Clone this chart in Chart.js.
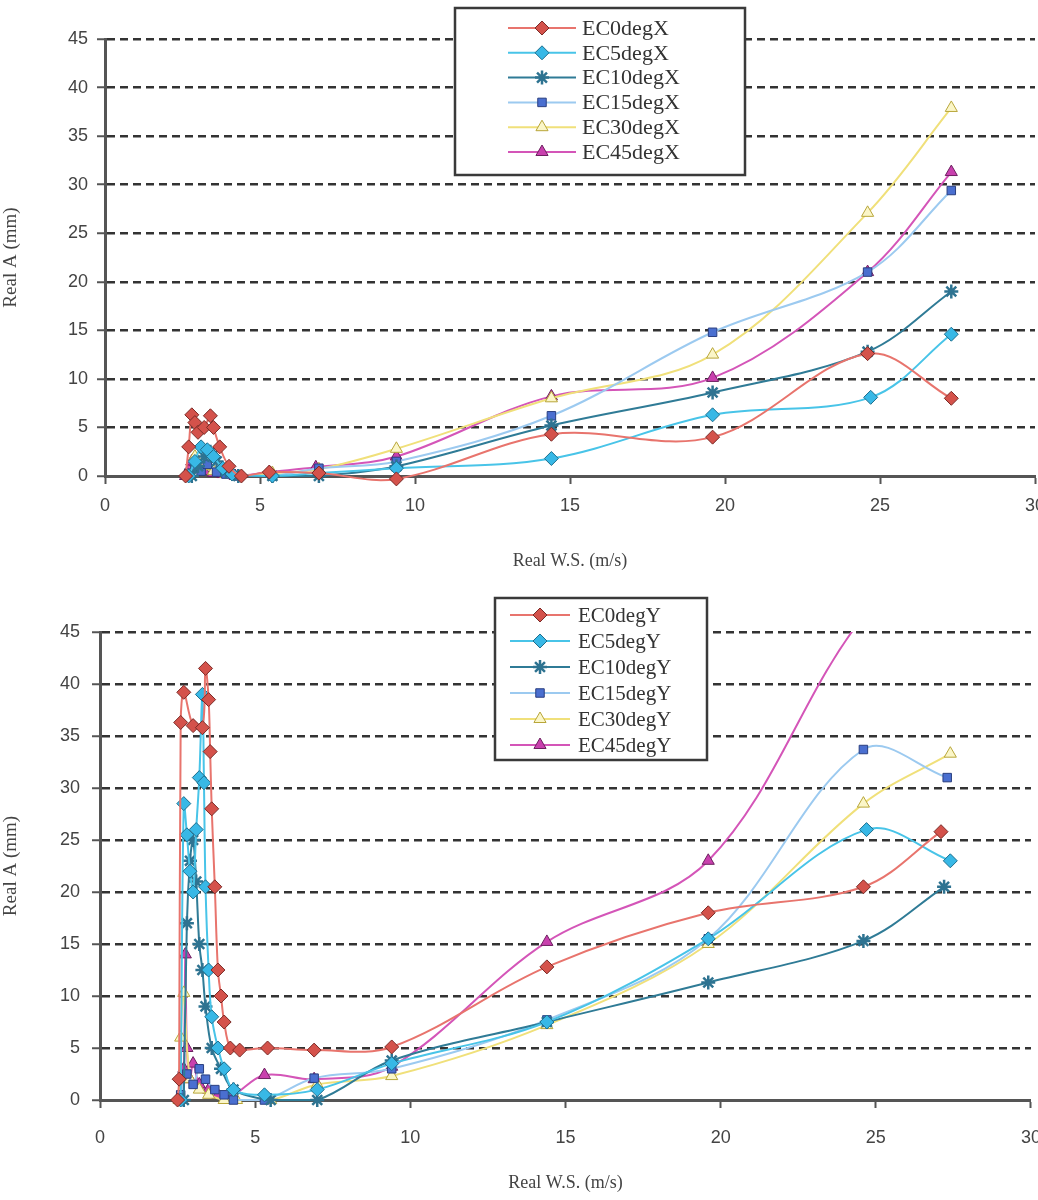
<!DOCTYPE html>
<html>
<head>
<meta charset="utf-8">
<script src="https://cdn.jsdelivr.net/npm/chart.js@4.4.1/dist/chart.umd.min.js"></script>
<style>
  html, body { margin: 0; padding: 0; background: #fff; overflow: hidden; }
  #wrap { width: 1038px; height: 1200px; overflow: hidden; }
  canvas { display: block; }
</style>
</head>
<body>
<div id="wrap">
  <canvas id="chartX" width="1060" height="590"></canvas>
  <canvas id="chartY" width="1060" height="610"></canvas>
</div>
<script>
"use strict";

// ---- data (wind speed m/s, amplitude mm) ----
// X direction
var ec0X_ws  = [2.6, 2.7, 2.8, 2.9, 3.0, 3.2, 3.4, 3.5, 3.7, 4.0, 4.4, 5.3, 6.9, 9.4, 14.4, 19.6, 24.6, 27.3];
var ec0X_amp = [0, 3.0, 6.3, 5.5, 4.5, 5.0, 6.2, 5.0, 3.0, 1.0, 0, 0.4, 0.3, -0.3, 4.3, 4.0, 12.6, 8.0];
var ec5X_ws  = [2.7, 2.9, 3.1, 3.3, 3.5, 3.8, 4.1, 5.4, 6.9, 9.4, 14.4, 19.6, 24.7, 27.3];
var ec5X_amp = [0, 1.5, 3.0, 2.7, 2.0, 0.8, 0.2, 0, 0.3, 0.8, 1.8, 6.3, 8.1, 14.6];
var ec10X_ws  = [2.8, 3.0, 3.2, 3.4, 3.6, 3.9, 4.3, 5.4, 6.9, 9.4, 14.4, 19.6, 24.6, 27.3];
var ec10X_amp = [0, 1.0, 2.0, 2.5, 1.5, 0.5, 0, 0, 0, 1.0, 5.2, 8.6, 12.8, 19.0];
var ec15X_ws  = [2.7, 2.9, 3.1, 3.3, 3.6, 3.9, 4.3, 5.4, 6.9, 9.4, 14.4, 19.6, 24.6, 27.3];
var ec15X_amp = [0.3, 1.0, 0.5, 1.2, 0.4, 0.2, 0, 0, 0.8, 1.5, 6.2, 14.8, 21.0, 29.4];
var ec30X_ws  = [2.7, 2.9, 3.2, 3.5, 3.9, 4.3, 5.4, 6.9, 9.4, 14.4, 19.6, 24.6, 27.3];
var ec30X_amp = [0, 2.0, 1.0, 0.5, 0.2, 0, 0.3, 0.7, 2.8, 8.0, 12.5, 27.1, 37.9];
var ec45X_ws  = [2.6, 2.7, 2.8, 3.0, 3.2, 3.5, 3.8, 4.2, 5.3, 6.8, 9.4, 14.4, 19.6, 24.6, 27.3];
var ec45X_amp = [0, 0.6, 1.5, 0.8, 0.5, 0.3, 0.2, 0, 0.4, 0.9, 2.0, 8.2, 10.1, 21.0, 31.3];

// Y direction
var ec0Y_ws  = [2.5, 2.55, 2.6, 2.7, 3.0, 3.3, 3.4, 3.5, 3.55, 3.6, 3.7, 3.8, 3.9, 4.0, 4.2, 4.5, 5.4, 6.9, 9.4, 14.4, 19.6, 24.6, 27.1];
var ec0Y_amp = [0, 2, 36.3, 39.2, 36, 35.8, 41.5, 38.5, 33.5, 28, 20.5, 12.5, 10, 7.5, 5, 4.8, 5.0, 4.8, 5.1, 12.8, 18.0, 20.5, 25.8];
var ec5Y_ws  = [2.6, 2.7, 2.8, 2.9, 3.0, 3.1, 3.2, 3.3, 3.35, 3.4, 3.5, 3.6, 3.8, 4.0, 4.3, 5.3, 7.0, 9.4, 14.4, 19.6, 24.7, 27.4];
var ec5Y_amp = [0, 28.5, 25.5, 22, 20, 26, 31, 39, 30.5, 20.5, 12.5, 8, 5, 3, 1, 0.5, 1, 3.5, 7.5, 15.5, 26.0, 23.0];
var ec10Y_ws  = [2.7, 2.8, 2.9, 3.0, 3.1, 3.2, 3.3, 3.4, 3.6, 3.9, 4.3, 5.5, 7.0, 9.4, 14.4, 19.6, 24.6, 27.2];
var ec10Y_amp = [0, 17, 23, 25, 21, 15, 12.5, 9, 5, 3, 1, 0, 0, 3.8, 7.5, 11.3, 15.3, 20.5];
var ec15Y_ws  = [2.6, 2.8, 3.0, 3.2, 3.4, 3.7, 4.0, 4.3, 5.3, 6.9, 9.4, 14.4, 19.6, 24.6, 27.3];
var ec15Y_amp = [0.5, 2.5, 1.5, 3.0, 2.0, 1.0, 0.5, 0, 0, 2.1, 3.0, 7.7, 15.5, 33.7, 31.0];
var ec30Y_ws  = [2.55, 2.6, 2.7, 2.9, 3.2, 3.5, 4.0, 4.4, 5.5, 7.0, 9.4, 14.4, 19.6, 24.6, 27.4];
var ec30Y_amp = [0, 6, 10.3, 2, 1, 0.5, 0, 0, 0, 1.5, 2.3, 7.2, 15.0, 28.5, 33.3];
var ec45Y_ws  = [2.6, 2.7, 2.75, 2.8, 2.9, 3.0, 3.2, 3.5, 3.8, 4.2, 5.3, 6.9, 9.4, 14.4, 19.6, 24.6, 27.3];
var ec45Y_amp = [0, 3, 14, 5, 2, 3.5, 1.5, 1, 0.5, 0.3, 2.4, 2.0, 3.2, 15.2, 23.0, 46.5, 52];

var seriesNames = ['EC0deg', 'EC5deg', 'EC10deg', 'EC15deg', 'EC30deg', 'EC45deg'];

// ---- styles ----
var lineColors   = ['#e8746d', '#48c4e8', '#2f7b96', '#9ccaf0', '#f0e07a', '#d455b8'];
var markerColors = ['#d4524b', '#38b8e6', '#2e7391', '#4a6fd0', '#fbf6c8', '#c940ae'];
var markerEdges  = ['#7a2a26', '#1e6f8e', '#2e7391', '#2a3f80', '#b8a63a', '#6d2060'];
var pointStyles  = ['rectRot', 'rectRot', 'star', 'rect', 'triangle', 'triangle'];
var pointSizes   = [7, 7, 7, 6, 7, 7];

function toPoints(ws, amp) {
    return ws.map(function (x, i) { return {x: x, y: amp[i]}; });
}

function makeDatasets(wsList, ampList, suffix) {
    return seriesNames.map(function (name, i) {
        return {
            label: name + suffix,
            data: toPoints(wsList[i], ampList[i]),
            showLine: true,
            tension: 0.35,
            borderColor: lineColors[i],
            borderWidth: 2,
            pointStyle: pointStyles[i],
            pointRadius: pointSizes[i],
            pointBackgroundColor: markerColors[i],
            pointBorderColor: markerEdges[i],
            pointBorderWidth: pointStyles[i] === 'star' ? 2.5 : 1,
            clip: {left: 12, right: 12, top: 0, bottom: 12}
        };
    });
}

// legend drawn as a framed box inside the plot
var boxLegend = {
    id: 'boxLegend',
    afterDraw: function (chart, args, o) {
        var ctx = chart.ctx;
        ctx.save();
        ctx.fillStyle = '#fff';
        ctx.fillRect(o.x, o.y, o.w, o.h);
        ctx.lineWidth = 2.5;
        ctx.strokeStyle = '#3a3a3a';
        ctx.strokeRect(o.x, o.y, o.w, o.h);
        chart.data.datasets.forEach(function (ds, i) {
            var y = o.y + o.first + i * o.step;
            ctx.strokeStyle = ds.borderColor;
            ctx.lineWidth = 2;
            ctx.beginPath();
            ctx.moveTo(o.line0, y);
            ctx.lineTo(o.line1, y);
            ctx.stroke();
            ctx.fillStyle = ds.pointBackgroundColor;
            ctx.strokeStyle = ds.pointBorderColor;
            ctx.lineWidth = ds.pointBorderWidth;
            Chart.helpers.drawPoint(ctx, {
                pointStyle: ds.pointStyle, radius: ds.pointRadius,
                borderWidth: ds.pointBorderWidth, rotation: 0
            }, (o.line0 + o.line1) / 2, y);
            ctx.fillStyle = '#333';
            ctx.font = o.font;
            ctx.textBaseline = 'middle';
            ctx.textAlign = 'left';
            ctx.fillText(ds.label, o.textX, y + 1);
        });
        ctx.restore();
    }
};

function makeOptions(p) {
    return {
        responsive: false,
        animation: false,
        layout: {padding: {top: p.top, right: 25, left: 0, bottom: 0}},
        plugins: {
            legend: {display: false},
            tooltip: {enabled: false},
            boxLegend: p.legend
        },
        scales: {
            x: {
                type: 'linear', min: 0, max: 30,
                afterFit: function (s) { s.height = p.xHeight; },
                ticks: {stepSize: 5, color: '#444', padding: p.xTickPad,
                        font: {family: 'Liberation Sans', size: 18}},
                grid: {drawOnChartArea: false, drawTicks: true, tickLength: 8,
                       tickColor: '#555', tickWidth: 2},
                border: {color: '#555', width: 3},
                title: {display: true, text: 'Real W.S. (m/s)', color: '#444',
                        font: {family: 'Liberation Serif', size: 18},
                        padding: {top: 0, bottom: p.xTitlePad}}
            },
            y: {
                min: 0, max: 45,
                afterFit: function (s) { s.width = p.yWidth; },
                ticks: {stepSize: 5, color: '#444', padding: p.yTickPad,
                        font: {family: 'Liberation Sans', size: 18}},
                grid: {color: '#333', lineWidth: 2.5, drawTicks: true, tickLength: 8,
                       tickColor: '#555', tickWidth: 2},
                border: {color: '#555', width: 3, dash: [8, 5]},
                title: {display: true, text: 'Real A (mm)', color: '#444',
                        font: {family: 'Liberation Serif', size: 19},
                        padding: {top: 0, bottom: 14}}
            }
        }
    };
}

// ---- top chart: X direction ----
new Chart(document.getElementById('chartX'), {
    type: 'scatter',
    data: {
        datasets: makeDatasets(
            [ec0X_ws, ec5X_ws, ec10X_ws, ec15X_ws, ec30X_ws, ec45X_ws],
            [ec0X_amp, ec5X_amp, ec10X_amp, ec15X_amp, ec30X_amp, ec45X_amp], 'X')
    },
    options: makeOptions({
        top: 39, xHeight: 114, xTickPad: 11, xTitlePad: 18, yWidth: 105, yTickPad: 9,
        legend: {x: 455, y: 8, w: 290, h: 167, first: 20, step: 24.8,
                 line0: 508, line1: 576, textX: 582, font: '22px "Liberation Serif"'}
    }),
    plugins: [boxLegend]
});

// ---- bottom chart: Y direction ----
new Chart(document.getElementById('chartY'), {
    type: 'scatter',
    data: {
        datasets: makeDatasets(
            [ec0Y_ws, ec5Y_ws, ec10Y_ws, ec15Y_ws, ec30Y_ws, ec45Y_ws],
            [ec0Y_amp, ec5Y_amp, ec10Y_amp, ec15Y_amp, ec30Y_amp, ec45Y_amp], 'Y')
    },
    options: makeOptions({
        top: 42, xHeight: 100, xTickPad: 19, xTitlePad: 6, yWidth: 100, yTickPad: 12,
        legend: {x: 495, y: 8, w: 212, h: 162, first: 17, step: 26,
                 line0: 510, line1: 570, textX: 578, font: '21px "Liberation Serif"'}
    }),
    plugins: [boxLegend]
});
</script>
</body>
</html>
